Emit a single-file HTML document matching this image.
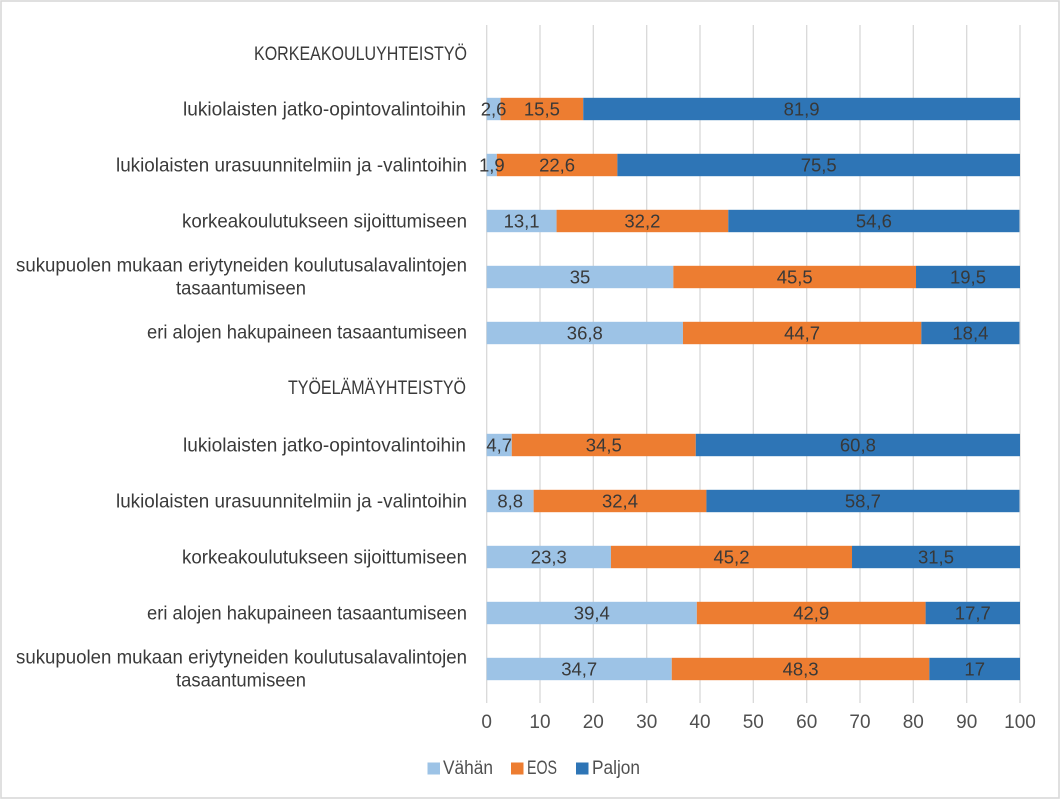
<!DOCTYPE html>
<html>
<head>
<meta charset="utf-8">
<style>
html,body{margin:0;padding:0;background:#fff;}
svg{display:block;}
text{font-family:"Liberation Sans",sans-serif;}
</style>
</head>
<body>
<svg width="1061" height="800" viewBox="0 0 1061 800" xmlns="http://www.w3.org/2000/svg">
<rect x="0" y="0" width="1061" height="800" fill="#fff"/>
<rect x="1" y="1" width="1058" height="797" fill="none" stroke="#d9d9d9" stroke-width="1.6"/>

<!-- gridlines -->
<g stroke="#d9d9d9" stroke-width="1.3">
<line x1="486.7" y1="25" x2="486.7" y2="703"/>
<line x1="540.0" y1="25" x2="540.0" y2="703"/>
<line x1="593.3" y1="25" x2="593.3" y2="703"/>
<line x1="646.7" y1="25" x2="646.7" y2="703"/>
<line x1="700.0" y1="25" x2="700.0" y2="703"/>
<line x1="753.3" y1="25" x2="753.3" y2="703"/>
<line x1="806.7" y1="25" x2="806.7" y2="703"/>
<line x1="860.0" y1="25" x2="860.0" y2="703"/>
<line x1="913.3" y1="25" x2="913.3" y2="703"/>
<line x1="966.7" y1="25" x2="966.7" y2="703"/>
<line x1="1020.0" y1="25" x2="1020.0" y2="703"/>
</g>

<!-- bars -->
<g>
<rect x="486.7" y="97.8" width="13.87" height="22.4" fill="#9DC3E6"/>
<rect x="500.57" y="97.8" width="82.66" height="22.4" fill="#ED7D31"/>
<rect x="583.23" y="97.8" width="436.77" height="22.4" fill="#2E75B6"/>

<rect x="486.7" y="153.8" width="10.13" height="22.4" fill="#9DC3E6"/>
<rect x="496.83" y="153.8" width="120.53" height="22.4" fill="#ED7D31"/>
<rect x="617.36" y="153.8" width="402.64" height="22.4" fill="#2E75B6"/>

<rect x="486.7" y="209.8" width="69.86" height="22.4" fill="#9DC3E6"/>
<rect x="556.56" y="209.8" width="171.72" height="22.4" fill="#ED7D31"/>
<rect x="728.28" y="209.8" width="291.18" height="22.4" fill="#2E75B6"/>

<rect x="486.7" y="265.8" width="186.66" height="22.4" fill="#9DC3E6"/>
<rect x="673.36" y="265.8" width="242.65" height="22.4" fill="#ED7D31"/>
<rect x="916.01" y="265.8" width="103.99" height="22.4" fill="#2E75B6"/>

<rect x="486.7" y="321.8" width="196.25" height="22.4" fill="#9DC3E6"/>
<rect x="682.95" y="321.8" width="238.39" height="22.4" fill="#ED7D31"/>
<rect x="921.34" y="321.8" width="98.13" height="22.4" fill="#2E75B6"/>

<rect x="486.7" y="433.8" width="25.07" height="22.4" fill="#9DC3E6"/>
<rect x="511.77" y="433.8" width="183.99" height="22.4" fill="#ED7D31"/>
<rect x="695.76" y="433.8" width="324.24" height="22.4" fill="#2E75B6"/>

<rect x="486.7" y="489.8" width="46.93" height="22.4" fill="#9DC3E6"/>
<rect x="533.63" y="489.8" width="172.79" height="22.4" fill="#ED7D31"/>
<rect x="706.42" y="489.8" width="313.05" height="22.4" fill="#2E75B6"/>

<rect x="486.7" y="545.8" width="124.26" height="22.4" fill="#9DC3E6"/>
<rect x="610.96" y="545.8" width="241.05" height="22.4" fill="#ED7D31"/>
<rect x="852.01" y="545.8" width="167.99" height="22.4" fill="#2E75B6"/>

<rect x="486.7" y="601.8" width="210.12" height="22.4" fill="#9DC3E6"/>
<rect x="696.82" y="601.8" width="228.79" height="22.4" fill="#ED7D31"/>
<rect x="925.61" y="601.8" width="94.39" height="22.4" fill="#2E75B6"/>

<rect x="486.7" y="657.8" width="185.06" height="22.4" fill="#9DC3E6"/>
<rect x="671.76" y="657.8" width="257.58" height="22.4" fill="#ED7D31"/>
<rect x="929.34" y="657.8" width="90.66" height="22.4" fill="#2E75B6"/>
</g>

<!-- data labels -->
<g font-size="18.5" fill="#383838" text-anchor="middle">
<text x="493.6" y="115.7">2,6</text><text x="541.9" y="115.7">15,5</text><text x="801.6" y="115.7">81,9</text>
<text x="491.8" y="171.7">1,9</text><text x="557.1" y="171.7">22,6</text><text x="818.7" y="171.7">75,5</text>
<text x="521.6" y="227.7">13,1</text><text x="642.4" y="227.7">32,2</text><text x="873.9" y="227.7">54,6</text>
<text x="580.0" y="283.7">35</text><text x="794.7" y="283.7">45,5</text><text x="968.0" y="283.7">19,5</text>
<text x="584.8" y="339.7">36,8</text><text x="802.1" y="339.7">44,7</text><text x="970.4" y="339.7">18,4</text>
<text x="499.2" y="451.7">4,7</text><text x="603.8" y="451.7">34,5</text><text x="857.9" y="451.7">60,8</text>
<text x="510.2" y="507.7">8,8</text><text x="620.0" y="507.7">32,4</text><text x="862.9" y="507.7">58,7</text>
<text x="548.8" y="563.7">23,3</text><text x="731.5" y="563.7">45,2</text><text x="936.0" y="563.7">31,5</text>
<text x="591.8" y="619.7">39,4</text><text x="811.2" y="619.7">42,9</text><text x="972.8" y="619.7">17,7</text>
<text x="579.2" y="675.7">34,7</text><text x="800.6" y="675.7">48,3</text><text x="974.7" y="675.7">17</text>
</g>

<!-- category labels -->
<g font-size="19.5" fill="#3a3a3a" text-anchor="end">
<text x="467" y="60" textLength="213" lengthAdjust="spacingAndGlyphs">KORKEAKOULUYHTEISTYÖ</text>
<text x="466" y="115.5" textLength="283" lengthAdjust="spacingAndGlyphs">lukiolaisten jatko-opintovalintoihin</text>
<text x="467" y="171.5" textLength="351" lengthAdjust="spacingAndGlyphs">lukiolaisten urasuunnitelmiin ja -valintoihin</text>
<text x="467" y="227.5" textLength="285" lengthAdjust="spacingAndGlyphs">korkeakoulutukseen sijoittumiseen</text>
<text x="467" y="271.5" textLength="451" lengthAdjust="spacingAndGlyphs">sukupuolen mukaan eriytyneiden koulutusalavalintojen</text>
<text x="306" y="294.5" textLength="130" lengthAdjust="spacingAndGlyphs">tasaantumiseen</text>
<text x="467" y="338.5" textLength="320" lengthAdjust="spacingAndGlyphs">eri alojen hakupaineen tasaantumiseen</text>
<text x="466" y="394" textLength="178" lengthAdjust="spacingAndGlyphs">TYÖELÄMÄYHTEISTYÖ</text>
<text x="466" y="451.5" textLength="283" lengthAdjust="spacingAndGlyphs">lukiolaisten jatko-opintovalintoihin</text>
<text x="467" y="507.5" textLength="351" lengthAdjust="spacingAndGlyphs">lukiolaisten urasuunnitelmiin ja -valintoihin</text>
<text x="467" y="563.5" textLength="285" lengthAdjust="spacingAndGlyphs">korkeakoulutukseen sijoittumiseen</text>
<text x="467" y="619.5" textLength="320" lengthAdjust="spacingAndGlyphs">eri alojen hakupaineen tasaantumiseen</text>
<text x="467" y="663.5" textLength="451" lengthAdjust="spacingAndGlyphs">sukupuolen mukaan eriytyneiden koulutusalavalintojen</text>
<text x="306" y="686.5" textLength="130" lengthAdjust="spacingAndGlyphs">tasaantumiseen</text>
</g>

<!-- x axis tick labels -->
<g font-size="19" fill="#505050" text-anchor="middle">
<text x="486.7" y="728">0</text>
<text x="540.0" y="728">10</text>
<text x="593.3" y="728">20</text>
<text x="646.7" y="728">30</text>
<text x="700.0" y="728">40</text>
<text x="753.3" y="728">50</text>
<text x="806.7" y="728">60</text>
<text x="860.0" y="728">70</text>
<text x="913.3" y="728">80</text>
<text x="966.7" y="728">90</text>
<text x="1020.0" y="728">100</text>
</g>

<!-- legend -->
<rect x="427.5" y="762.5" width="12.5" height="12" fill="#9DC3E6"/>
<rect x="511" y="762.5" width="12.5" height="12" fill="#ED7D31"/>
<rect x="576" y="762.5" width="12.5" height="12" fill="#2E75B6"/>
<g font-size="19" fill="#505050">
<text x="443" y="774" textLength="50" lengthAdjust="spacingAndGlyphs">Vähän</text>
<text x="527" y="774" textLength="30" lengthAdjust="spacingAndGlyphs">EOS</text>
<text x="592" y="774" textLength="48" lengthAdjust="spacingAndGlyphs">Paljon</text>
</g>
</svg>
</body>
</html>
